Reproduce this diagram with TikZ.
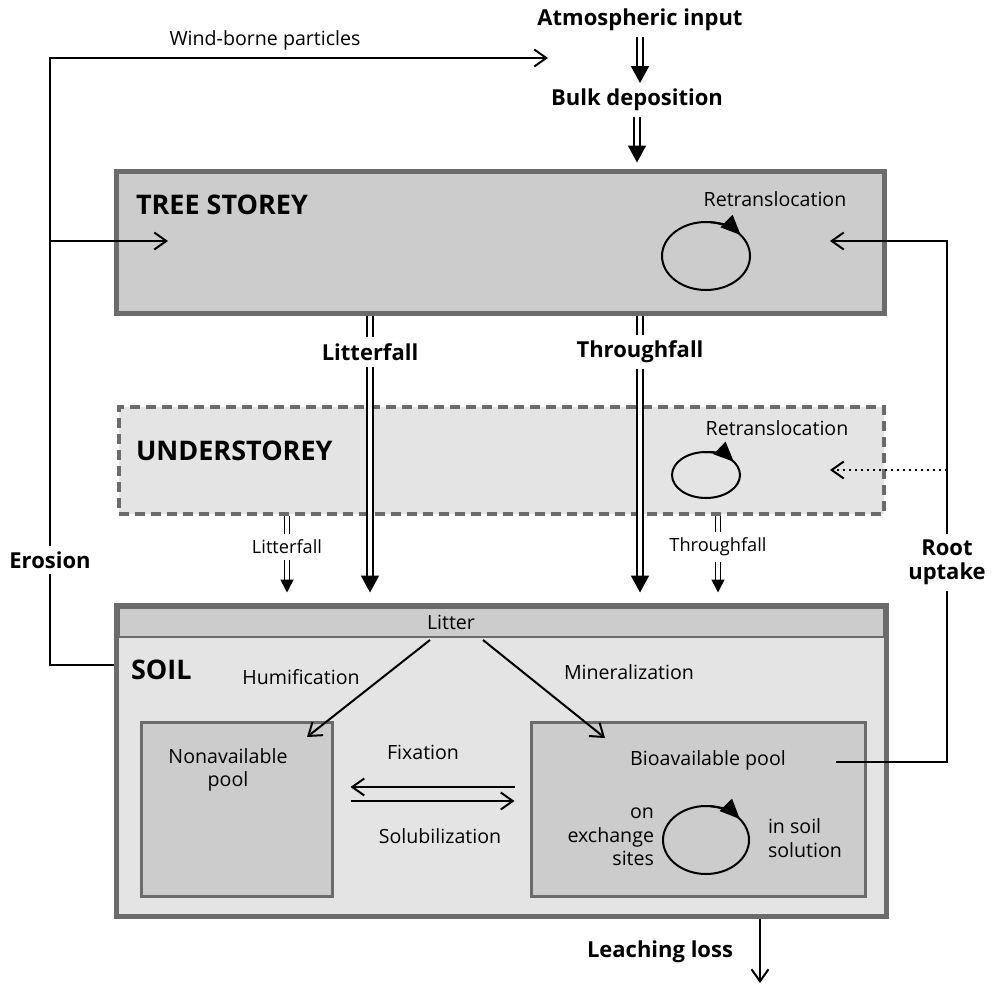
\documentclass[tikz,border=0pt]{standalone}
\usepackage{fontspec}
\setmainfont{Open Sans}
\usetikzlibrary{arrows.meta,fit,positioning}

\definecolor{boxline}{HTML}{6B6B6B}
\definecolor{darkfill}{HTML}{CCCCCC}
\definecolor{lightfill}{HTML}{E4E4E4}

\begin{document}
\begin{tikzpicture}
        [x=0.5pt,y=-0.5pt,line width=1pt,
         every node/.style={inner sep=2.5pt,align=center},
         lbl/.style={font=\fontsize{9.8}{11.8}\selectfont},
         blbl/.style={font=\fontsize{11}{12}\selectfont\bfseries},
         hlbl/.style={font=\fontsize{13.5}{15}\selectfont\bfseries},
         slbl/.style={font=\fontsize{9.1}{10}\selectfont},
         bigbox/.style={draw=boxline,line width=2.5pt,fill=#1,inner sep=0pt},
         poolbox/.style={draw=boxline,line width=1.5pt,fill=darkfill,inner sep=0pt},
         arr/.style={-{Straight Barb[length=6pt,width=8.5pt]}},
         dblline/.style={double,double distance=2.2pt,line width=1pt},
         dblarrow/.style={dblline,-{Triangle[length=8.5pt,width=9pt]}},
         sdblline/.style={double,double distance=1.6pt,line width=0.8pt},
         sdblarrow/.style={sdblline,-{Triangle[length=6.5pt,width=6.5pt]}},
         turn/.style={-{Triangle[length=10pt,width=8.5pt]}}]
        \path[use as bounding box,fill=white] (0,0) rectangle (996,985);

        \node[blbl] (atm) at (640,20) {Atmospheric input};
        \node[blbl] (bulk) at (637,100) {Bulk deposition};
        \node[lbl] (wind) at (265,40) {Wind-borne particles};

        \node[bigbox=darkfill,fit={(116,171) (884,313)}] (tree) {};
        \node[hlbl,anchor=west] (treelbl) at (130,205) {TREE STOREY};
        \node[lbl] (tret) at (775,199) {Retranslocation};
        \coordinate (tc) at (706,256);
        \draw (tc) ellipse [x radius=44,y radius=34];
        \draw[turn] ([shift={(-85:44 and 34)}]tc) arc [start angle=-85,end angle=-38,x radius=44,y radius=34];

        \node[bigbox=lightfill,dashed,dash pattern=on 5pt off 3pt,line width=2pt,fit={(119,407) (884,514)}] (under) {};
        \node[hlbl,anchor=west] (underlbl) at (130,451) {UNDERSTOREY};
        \node[lbl] (uret) at (777,428) {Retranslocation};
        \coordinate (uc) at (706,475);
        \draw (uc) ellipse [x radius=34,y radius=23];
        \draw[turn] ([shift={(-95:34 and 23)}]uc) arc [start angle=-95,end angle=-35,x radius=34,y radius=23];

        \node[bigbox=lightfill,fit={(116,605) (886,916)}] (soil) {};
        \node[draw=boxline,line width=1.2pt,fill=darkfill,inner sep=0pt,fit={(119,608) (884,637)}] (litter) {};
        \node[lbl] (littertxt) at (451,622) {Litter};
        \node[hlbl,anchor=west] (soillbl) at (125,670) {SOIL};
        \node[lbl] (humi) at (301,677) {Humification};
        \node[lbl] (mine) at (629,672) {Mineralization};

        \node[poolbox,fit={(141,722) (332,896)}] (nonav) {};
        \node[lbl] (nonavtxt) at (228,770) {Nonavailable\\pool};
        \node[poolbox,fit={(531,722) (865,896)}] (bioav) {};
        \node[lbl] (bioavtxt) at (708,760) {Bioavailable pool};
        \node[lbl,anchor=east,align=right] (exch) at (660,837) {on\\exchange\\sites};
        \node[lbl,anchor=west,align=left] (solu) at (762,838) {in soil\\solution};
        \coordinate (bc) at (706,840);
        \draw (bc) ellipse [x radius=43,y radius=34];
        \draw[turn] ([shift={(-85:43 and 34)}]bc) arc [start angle=-85,end angle=-38,x radius=43,y radius=34];

        \node[lbl] (fix) at (423,752) {Fixation};
        \node[lbl] (solub) at (440,836) {Solubilization};

        \node[blbl] (lf) at (370,352) {Litterfall};
        \node[blbl] (tf) at (640,352) {Throughfall};
        \node[slbl] (ulf) at (287,547) {Litterfall};
        \node[slbl] (utf) at (718,547) {Throughfall};

        \node[blbl] (eros) at (50,560) {Erosion};
        \node[blbl] (root) at (947,562) {Root\\uptake};
        \node[blbl] (leach) at (660,952) {Leaching loss};

        \coordinate (wend) at (548,58);
        \coordinate (tin) at (168,241);
        \coordinate (rin) at (830,241);
        \coordinate (uin) at (830,470);
        \coordinate (bout) at (836,762);
        \coordinate (lend) at (760,983);
        \coordinate (hstart) at (430,640);
        \coordinate (hend) at (307,737);
        \coordinate (mstart) at (483,640);
        \coordinate (mend) at (605,738);

        \draw[dblarrow] (atm) -- (atm |- bulk.north);
        \draw[dblarrow,shorten >=3pt] (bulk) -- (bulk |- tree.north);

        \draw[dblline] (tree.south -| lf) -- (lf);
        \draw[dblarrow,shorten >=5pt] (lf) -- (lf |- soil.north);
        \draw[dblline] (tree.south -| tf) -- (tf);
        \draw[dblarrow,shorten >=5pt] (tf) -- (tf |- soil.north);
        \draw[sdblline] (under.south -| ulf) -- (ulf);
        \draw[sdblarrow,shorten >=5pt] (ulf) -- (ulf |- soil.north);
        \draw[sdblline] (under.south -| utf) -- (utf);
        \draw[sdblarrow,shorten >=5pt] (utf) -- (utf |- soil.north);

        \draw (soil.west |- 0,665) -| (eros);
        \draw[arr] (eros) |- (wend);
        \draw[arr] (eros |- tin) -- (tin);

        \draw (bout) -| (root);
        \draw[arr] (root) |- (rin);
        \draw[arr,dotted] (root |- uin) -- (uin);

        \draw[arr] (hstart) -- (hend);
        \draw[arr] (mstart) -- (mend);
        \draw[arr,shorten <=7.5pt,shorten >=8.5pt] ([yshift=11pt]bioav.west) -- ([yshift=11pt]nonav.east);
        \draw[arr,shorten <=8.5pt,shorten >=7.5pt] ([yshift=4pt]nonav.east) -- ([yshift=4pt]bioav.west);

        \draw[arr] (soil.south -| lend) -- (lend);
    \end{tikzpicture}
\end{document}
